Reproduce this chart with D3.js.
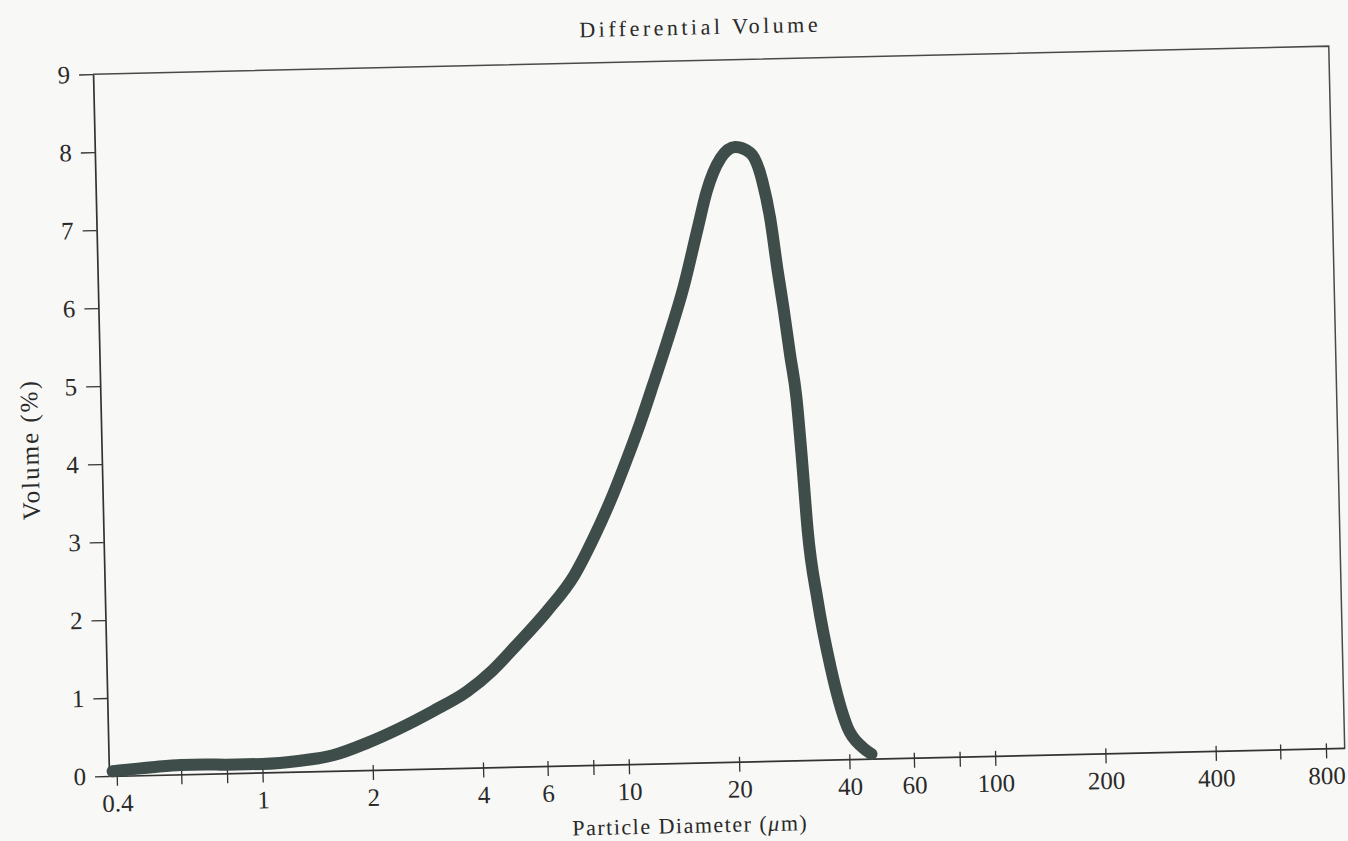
<!DOCTYPE html>
<html>
<head>
<meta charset="utf-8">
<script src="https://cdnjs.cloudflare.com/ajax/libs/d3/7.8.5/d3.min.js"></script>
<style>
  body { margin: 0; background: #f8f8f6; }
  svg { display: block; }
  text { font-family: "Liberation Serif", "DejaVu Serif", serif; fill: #2a2a2a; }
</style>
</head>
<body>
<script>
let x = 1348;
let y = 841;

// curve (diameter in um, volume in %)
let diameters = [0.39, 0.5, 0.6, 0.7, 0.8, 1.0, 1.27, 1.56, 1.94, 2.39, 2.95, 3.66, 4.3, 5.0, 6.1, 7.3, 8.3, 9.45, 10.3, 11.3, 12.3, 13.5, 15.1, 16.6, 17.7, 19.4, 21.3, 23.4, 25.1, 26.3, 27.3, 28.2, 29.2, 30.2, 31.0, 31.8, 33.5, 36.0, 39.7, 43.5, 46];
let volumes = [0.06, 0.10, 0.12, 0.12, 0.11, 0.11, 0.14, 0.20, 0.35, 0.53, 0.74, 0.98, 1.24, 1.55, 1.98, 2.44, 2.92, 3.48, 3.90, 4.38, 4.86, 5.40, 6.10, 6.83, 7.32, 7.74, 7.88, 7.80, 7.45, 6.94, 6.3, 5.8, 5.2, 4.65, 3.85, 2.95, 2.05, 1.19, 0.41, 0.15, 0.06];

let xTicks = [0.4, 0.6, 0.8, 1, 2, 4, 6, 8, 10, 20, 40, 60, 80, 100, 200, 400, 600, 800];
let xLabels = [0.4, 1, 2, 4, 6, 10, 20, 40, 60, 100, 200, 400, 800];
let yTicks = [0, 1, 2, 3, 4, 5, 6, 7, 8, 9];

let w = 1236;
let h = 702;

let svg = d3.select("body")
  .append("svg")
  .attr("width", x)
  .attr("height", y);

// the scanned page is a bit tilted, so turn the whole plot
let g = svg.append("g")
  .attr("transform", "translate(109, 776) rotate(-1.3) translate(0, " + (-h) + ")");

let xScale = d3.scaleLog().domain([0.381, 900]).range([0, w]);
let yScale = d3.scaleLinear().domain([0, 9]).range([h, 0]);

// frame top and right
g.append("path")
  .attr("d", "M0,0H" + w + "V" + h)
  .attr("fill", "none")
  .attr("stroke", "#4a4a4a")
  .attr("stroke-width", 1.5);

let xAxis = g.append("g")
  .attr("transform", "translate(0, " + h + ")")
  .attr("color", "#333")
  .call(d3.axisBottom(xScale)
    .tickValues(xTicks)
    .tickFormat(d => xLabels.includes(d) ? d : "")
    .tickSize(10)
    .tickPadding(8)
    .tickSizeOuter(0));
xAxis.selectAll(".tick line").attr("y1", -5).attr("stroke-width", 1.3);
xAxis.select(".domain").attr("stroke-width", 1.7);
xAxis.selectAll("text")
  .attr("font-size", 25)
  .attr("font-family", "Liberation Serif");

let yAxis = g.append("g")
  .attr("color", "#333")
  .call(d3.axisLeft(yScale)
    .tickValues(yTicks)
    .tickSize(14)
    .tickPadding(9)
    .tickSizeOuter(0));
yAxis.selectAll(".tick line").attr("stroke-width", 1.3);
yAxis.select(".domain").attr("stroke-width", 1.7);
yAxis.selectAll("text")
  .attr("font-size", 25)
  .attr("font-family", "Liberation Serif");

g.append("text")
  .text("Differential Volume")
  .attr("x", 608)
  .attr("y", -26)
  .attr("text-anchor", "middle")
  .attr("font-size", 22)
  .attr("letter-spacing", 3.5);

let xLabel = g.append("text")
  .attr("x", 580)
  .attr("y", h + 70)
  .attr("text-anchor", "middle")
  .attr("font-size", 22)
  .attr("letter-spacing", 1.5);
xLabel.append("tspan").text("Particle Diameter (");
xLabel.append("tspan").text("μ").attr("font-style", "italic");
xLabel.append("tspan").text("m)");

g.append("text")
  .text("Volume (%)")
  .attr("transform", "translate(-72, 374) rotate(-90)")
  .attr("text-anchor", "middle")
  .attr("dy", "0.35em")
  .attr("font-size", 25)
  .attr("letter-spacing", 2);

let points = diameters.map((d, i) => [d, volumes[i]]);

let line = d3.line()
  .x(d => xScale(d[0]))
  .y(d => yScale(d[1]))
  .curve(d3.curveMonotoneX);

g.append("path")
  .datum(points)
  .attr("d", line)
  .attr("fill", "none")
  .attr("stroke", "#3e4d49")
  .attr("stroke-width", 12)
  .attr("stroke-linecap", "round")
  .attr("stroke-linejoin", "round");
</script>
</body>
</html>
